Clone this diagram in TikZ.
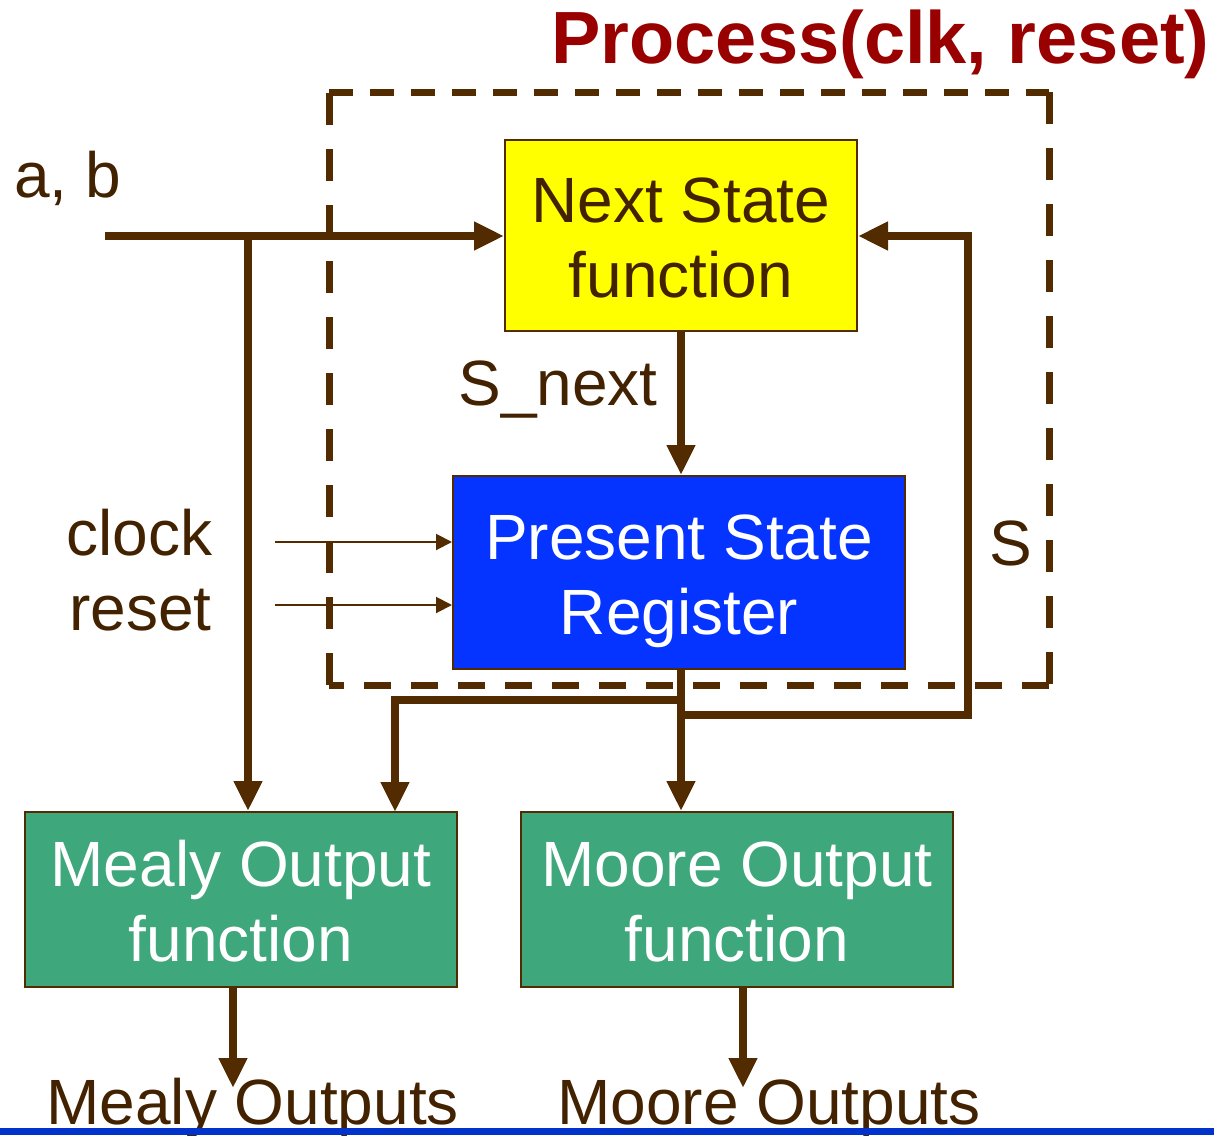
\documentclass[tikz,border=0pt]{standalone}
\usepackage{fontspec}
\setmainfont{Liberation Sans}
\usetikzlibrary{arrows.meta}
\definecolor{wire}{RGB}{82,44,0}
\definecolor{ink}{RGB}{66,34,0}
\definecolor{titlered}{RGB}{153,0,0}
\definecolor{nsfill}{RGB}{255,255,0}
\definecolor{regfill}{RGB}{5,51,255}
\definecolor{outfill}{RGB}{62,167,124}
\definecolor{baserule}{RGB}{0,51,204}

% two centred lines; the second baseline sits 31pt below the block centre
\newcommand{\blocktext}[2]{\raisebox{-31pt}[0pt][0pt]{\begin{tabular}[b]{@{}c@{}}#1\\#2\end{tabular}}}

\begin{document}
\begin{tikzpicture}[x=0.5pt,y=-0.5pt,
  block/.style={draw=wire, line width=1pt, inner sep=0pt,
                font=\fontsize{32}{37.5}\selectfont},
  bus/.style={draw=wire, line width=4pt, line join=miter,
              -{Triangle[length=15pt,width=13.5pt]}},
  ctrl/.style={draw=wire, line width=1pt, -{Triangle[length=8pt,width=8pt]}},
  lbl/.style={text=ink, inner sep=0pt, font=\fontsize{32}{38}\selectfont},
  procedge/.style={draw=wire, line width=3.5pt},
]
\useasboundingbox (0,0) rectangle (1214,1135);

% process boundary
\draw[procedge, dash pattern=on 12pt off 8.5pt] (329,92) -- (1049,92);
\draw[procedge, dash pattern=on 16pt off 12pt] (1049,92) -- (1049,685);
\draw[procedge, dash pattern=on 13.5pt off 10pt] (1049,685) -- (329,685);
\draw[procedge, dash pattern=on 16pt off 12pt] (329,685) -- (329,92);

\node[text=titlered, inner sep=0pt, anchor=base east,
      font=\fontsize{37}{44}\selectfont\bfseries] (title) at (1210,63) {Process(clk, reset)};

% blocks
\node[block, fill=nsfill, text=ink, minimum width=176pt, minimum height=95.5pt]
  (ns) at (681,235.5) {\blocktext{Next State}{function}};
\node[block, fill=regfill, text=white, minimum width=226pt, minimum height=96.5pt]
  (psr) at (679,572.5) {\blocktext{Present State}{Register}};
\node[block, fill=outfill, text=white, minimum width=216pt, minimum height=87.5pt]
  (mealy) at (241,899.5) {\blocktext{Mealy Output}{function}};
\node[block, fill=outfill, text=white, minimum width=216pt, minimum height=87.5pt]
  (moore) at (737,899.5) {\blocktext{Moore Output}{function}};

% labels
\node[lbl, anchor=base west] (ab) at (14,197) {a, b};
\node[lbl, anchor=base east] (snext) at (658,405) {S\_next};
\node[lbl, anchor=base east] (clk) at (213,555) {clock};
\node[lbl, anchor=base east] (rst) at (212,630) {reset};
\node[lbl, anchor=base west] (slbl) at (989,565) {S};
\node[lbl, anchor=base west] (mealyout) at (46,1124) {Mealy Outputs};
\node[lbl, anchor=base west] (mooreout) at (557,1124) {Moore Outputs};

% junction points
\coordinate (abin) at (105,236);
\coordinate (abtap) at (248,236);
\coordinate (stap) at (681,700);
\coordinate (sfb) at (681,715);
\coordinate (mealytip) at (233,1088);
\coordinate (mooretip) at (743,1088);

% inputs to next-state logic and Mealy logic
\draw[bus] (abin) -- (ns.west |- abin);
\draw[bus] (abtap) -- (mealy.north -| abtap);

% next state into the register
\draw[bus] (ns.south) -- (ns.south |- psr.north);

% register output
\draw[bus] (psr.south -| ns.south) -- (moore.north -| ns.south);
\draw[bus] (stap) -- (395,700) -- (395,812);
\draw[bus] (sfb) -- (968,715) -- (968,236) -- (ns.east |- 968,236);

% clock and reset
\draw[ctrl] (275,542) -- (psr.west |- 275,542);
\draw[ctrl] (275,605) -- (psr.west |- 275,605);

% output logic to outputs
\draw[bus] (mealy.south -| mealytip) -- (mealytip);
\draw[bus] (moore.south -| mooretip) -- (mooretip);

% base rule
\fill[baserule] (0,1128) rectangle (1214,1135);
\end{tikzpicture}
\end{document}
